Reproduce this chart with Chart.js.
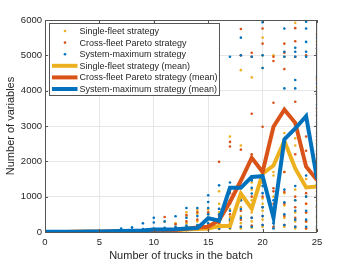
<!DOCTYPE html>
<html>
<head>
<meta charset="utf-8">
<script src="https://cdn.jsdelivr.net/npm/chart.js@4"></script>
<style>
  html, body { margin: 0; padding: 0; background: #fff; }
  #wrap { width: 350px; height: 263px; }
</style>
</head>
<body>
<div id="wrap"><canvas id="chart" width="350" height="263"></canvas></div>
<script>
// trucks in the batch (x)
const trucks = [0,1,2,3,4,5,6,7,8,9,10,11,12,13,14,15,16,17,18,19,20,21,22,23,24,25];

// mean curves
const singleMean = [0,0,2,4,6,8,10,15,20,25,35,45,55,70,85,100,170,170,1090,660,1650,1880,2580,1800,1260,1290];
const crossMean  = [0,0,2,4,6,8,12,18,25,30,40,50,60,90,130,150,330,850,1450,2100,1700,2980,3460,3090,1850,1470];
const systemMean = [5,6,8,10,12,15,18,25,35,45,70,70,80,100,110,390,320,1250,1250,1560,1580,410,2620,2930,3280,1510];

// individual runs, one list per truck count
const singleRuns = [
  [0,1],[1,3],[2,5],[3,8],[5,12],[7,16],[9,22],[12,30],[15,40],[20,50],
  [25,60],[30,90,290],[40,110,250],[50,130,250,450,560],[60,150,300,520,620],
  [60,180,350,500,640],[80,200,380,560,800,1150],[90,220,420,650,900,2700],
  [100,250,450,700,950,1050,1500,2450,4580],[120,300,550,750,900,1200,1400,4375],
  [150,350,600,800,950,1550,1700,4640,5000,5500],[120,350,650,1000,1600,1700,5000],
  [150,400,750,1100,1700,2800,4960],[100,300,550,900,1200,2450,2650,5920],
  [100,300,550,800,1000,1250,1500],
  [50,300,600,900,1150,1400,1700,2100,2600,3000,3400,3800,4100,4350,5100,5400,5600]
];
const crossRuns = [
  [0,2],[1,4],[2,6],[3,9],[5,13],[7,18],[10,25],[15,35],[20,45],[25,55],
  [30,70],[35,100,425],[45,120,220],[60,150,300,480],[70,170,350,560],
  [80,200,400,560],[100,250,450,650,1985],[120,300,500,800,1100,2420,2550],
  [150,350,600,900,1300,2330,5000,5745],[180,400,650,1000,1500,2200,3345,4960,5075],
  [200,450,700,1000,1400,2976,5330,5760],[150,400,800,1150,1240,3656,4840,4960],
  [200,450,800,1135,1700,4610,5075,5330],[150,400,700,1000,2200,3050,3685,4960,5400,5770],
  [100,300,550,800,1100,2300,2700,5000],
  [100,400,700,1000,1300,1600,1900,2200,2500,2800,3100,3500,3900,4300,5000,5300]
];
const systemRuns = [
  [0,3],[1,5],[2,8],[3,10],[5,15],[7,20],[10,28],[20,50,100],[25,60,130],[30,80,245],
  [35,100,270,400],[40,120,300],[50,150,445],[60,180,400,680],[70,200,450,680],
  [80,250,500,680,850,1040],[100,300,500,660,1320],[120,350,600,900,1230,1400,4960],
  [150,400,650,900,1100,1250,1450,5000,5500],[150,400,700,1090,1250,1460,4960],
  [200,450,700,1100,1300,1500,4640,5000,5935],[100,250,400,600,900],
  [200,500,840,1200,3477,4064,4960,5100,5760],[150,350,600,900,1300,4064,4300,4960,5100,5215],
  [150,350,600,1000,1600,4960,5100,5380,5760,5950],
  [150,450,750,1050,1350,1650,2000,2300,2700,3000,3300,3600,3900,4200,4400,5050,5200,5500]
];

const xTicks = [0,5,10,15,20,25];
const yTicks = [0,1000,2000,3000,4000,5000,6000];

const YELLOW = '#EDB120', ORANGE = '#D95319', BLUE = '#0072BD';

function runPoints(runs) {
  const pts = [];
  runs.forEach((list, i) => list.forEach(v => pts.push({ x: trucks[i], y: v })));
  return pts;
}
function meanPoints(vals) {
  return vals.map((v, i) => ({ x: trucks[i], y: v }));
}

const dots = (label, runs, color, order) => ({
  label, data: runPoints(runs), type: 'scatter', showLine: false,
  pointRadius: 1.3, pointBorderWidth: 0, backgroundColor: color, borderColor: color,
  order, legendKind: 'dot'
});
const mean = (label, vals, color, order) => ({
  label, data: meanPoints(vals), type: 'line', showLine: true, fill: false,
  borderColor: color, backgroundColor: color, borderWidth: 4, pointRadius: 0,
  tension: 0, borderJoinStyle: 'miter', order, legendKind: 'line'
});

const frame = {
  id: 'frame',
  afterDatasetsDraw(chart) {
    const { ctx, chartArea: a } = chart;
    ctx.save();
    ctx.strokeStyle = '#555';
    ctx.lineWidth = 1;
    ctx.strokeRect(Math.round(a.left) + 0.5, Math.round(a.top) + 0.5,
                   Math.round(a.right - a.left) - 1, Math.round(a.bottom - a.top));
    // inward tick marks
    const xs = chart.scales.x, ys = chart.scales.y;
    ctx.beginPath();
    xTicks.forEach(t => {
      const px = Math.round(xs.getPixelForValue(t)) + 0.5;
      ctx.moveTo(px, a.bottom); ctx.lineTo(px, a.bottom - 3);
      ctx.moveTo(px, a.top); ctx.lineTo(px, a.top + 3);
    });
    yTicks.forEach(t => {
      const py = Math.round(ys.getPixelForValue(t)) + 0.5;
      ctx.moveTo(a.left, py); ctx.lineTo(a.left + 3, py);
      ctx.moveTo(a.right, py); ctx.lineTo(a.right - 3, py);
    });
    ctx.stroke();

    // legend box
    const lx = 49.5, ly = 23.5, lw = 170, lh = 72;
    ctx.fillStyle = '#fff';
    ctx.fillRect(lx, ly, lw, lh);
    ctx.strokeStyle = '#555';
    ctx.strokeRect(lx, ly, lw, lh);
    ctx.font = '9px "Liberation Sans", Arial, sans-serif';
    ctx.textBaseline = 'middle';
    chart.data.datasets.forEach((ds, i) => {
      const y = 31 + i * 11.6;
      if (ds.legendKind === 'dot') {
        ctx.fillStyle = ds.backgroundColor;
        ctx.beginPath(); ctx.arc(65, y, 1.3, 0, Math.PI * 2); ctx.fill();
      } else {
        ctx.strokeStyle = ds.borderColor;
        ctx.lineWidth = 4;
        ctx.beginPath(); ctx.moveTo(52, y); ctx.lineTo(77.5, y); ctx.stroke();
      }
      ctx.fillStyle = '#262626';
      ctx.fillText(ds.label, 79.5, y + 0.5);
    });
    ctx.restore();
  }
};

const tickFont = { family: '"Liberation Sans", Arial', size: 9.5 };
const titleFont = { family: '"Liberation Sans", Arial', size: 11 };

new Chart(document.getElementById('chart'), {
  type: 'scatter',
  data: {
    datasets: [
      dots('Single-fleet strategy', singleRuns, YELLOW, 5),
      dots('Cross-fleet Pareto strategy', crossRuns, ORANGE, 4),
      dots('System-maximum strategy', systemRuns, BLUE, 3),
      mean('Single-fleet strategy (mean)', singleMean, YELLOW, 2),
      mean('Cross-fleet Pareto strategy (mean)', crossMean, ORANGE, 1),
      mean('System-maximum strategy (mean)', systemMean, BLUE, 0)
    ]
  },
  options: {
    responsive: false,
    animation: false,
    events: [],
    layout: { padding: { left: 0, right: 33, top: 20, bottom: 0 } },
    plugins: { legend: { display: false }, tooltip: { enabled: false } },
    scales: {
      x: {
        type: 'linear', min: 0, max: 25,
        afterBuildTicks: s => { s.ticks = xTicks.map(v => ({ value: v })); },
        afterFit: s => { s.height = 31; },
        grid: { color: '#e6e6e6', drawTicks: false },
        border: { display: false },
        ticks: { padding: 5, color: '#262626', font: tickFont, callback: v => String(v) },
        title: { display: true, text: 'Number of trucks in the batch', color: '#262626',
                 padding: { top: 2, bottom: 0 }, font: titleFont }
      },
      y: {
        type: 'linear', min: 0, max: 6000,
        afterBuildTicks: s => { s.ticks = yTicks.map(v => ({ value: v })); },
        afterFit: s => { s.width = 45; },
        grid: { color: '#e6e6e6', drawTicks: false },
        border: { display: false },
        ticks: { padding: 3, color: '#262626', font: tickFont, callback: v => String(v) },
        title: { display: true, text: 'Number of variables', color: '#262626',
                 padding: { top: 4, bottom: 0 }, font: titleFont }
      }
    }
  },
  plugins: [frame]
});
</script>
</body>
</html>
